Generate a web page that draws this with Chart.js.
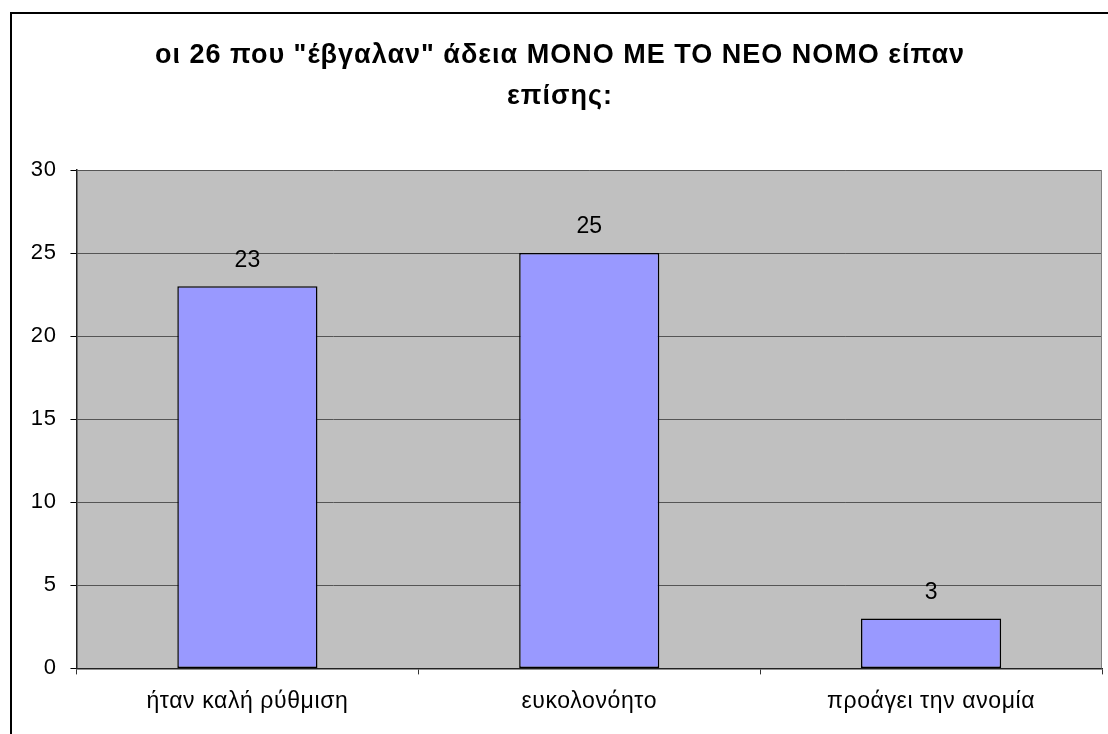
<!DOCTYPE html>
<html lang="el">
<head>
    <meta charset="UTF-8">
    <title>οι 26 που "έβγαλαν" άδεια</title>
    <script src="https://cdn.jsdelivr.net/npm/chart.js"></script>
    <style>
        html, body { margin: 0; padding: 0; background: #fff; overflow: hidden; }
        #wrap { position: relative; width: 1108px; height: 734px; }
        #frame {
            position: absolute; left: 10px; top: 12px; width: 1200px; height: 800px;
            border-left: 2px solid #000; border-top: 2px solid #000; box-sizing: border-box;
        }
        canvas { position: absolute; left: 0; top: 0; }
    </style>
</head>
<body>
<div id="wrap">
    <div id="frame"></div>
    <canvas id="chart" width="1108" height="734"></canvas>
</div>
<script>
    // dades del gràfic
    const categories = ['ήταν καλή ρύθμιση', 'ευκολονόητο', 'προάγει την ανομία'];
    const values = [23, 25, 3];
    const titleLines = ['οι 26 που "έβγαλαν" άδεια ΜΟΝΟ ΜΕ ΤΟ ΝΕΟ ΝΟΜΟ είπαν', 'επίσης:'];
    const yMin = 0, yMax = 30, yStep = 5;

    const FONT = "'Liberation Sans', Arial, sans-serif";

    // fons gris de l'àrea del gràfic + espaiat de lletres
    const plotBg = {
        id: 'plotBg',
        afterLayout(chart) {
            // el títol d'Excel surt una mica espaiat
            const tb = chart.titleBlock;
            if (tb && !tb._spaced) {
                const orig = tb.draw;
                tb.draw = function (area) {
                    const ctx = chart.ctx;
                    ctx.save();
                    ctx.letterSpacing = '1px';
                    orig.call(this, area);
                    ctx.restore();
                };
                tb._spaced = true;
            }
        },
        beforeDraw(chart) {
            const a = chart.chartArea, ctx = chart.ctx;
            ctx.letterSpacing = '0.6px';
            ctx.save();
            ctx.fillStyle = '#C0C0C0';
            ctx.fillRect(a.left, a.top, a.right - a.left, a.bottom - a.top);
            ctx.restore();
        },
        afterDraw(chart) {
            const a = chart.chartArea, ctx = chart.ctx;
            ctx.save();
            ctx.strokeStyle = '#808080';
            ctx.lineWidth = 1;
            ctx.beginPath();
            ctx.moveTo(a.right - 0.5, a.top);
            ctx.lineTo(a.right - 0.5, a.bottom);
            ctx.stroke();
            ctx.restore();
        }
    };

    // etiquetes de valor sobre les barres
    const valueLabels = {
        id: 'valueLabels',
        afterDatasetsDraw(chart) {
            const ctx = chart.ctx;
            const meta = chart.getDatasetMeta(0);
            ctx.save();
            ctx.letterSpacing = '0px';
            ctx.font = '23px ' + FONT;
            ctx.fillStyle = '#000';
            ctx.textAlign = 'center';
            ctx.textBaseline = 'middle';
            meta.data.forEach((bar, i) => {
                ctx.fillText(String(values[i]), bar.x, bar.y - 26);
            });
            ctx.restore();
        }
    };

    new Chart(document.getElementById('chart'), {
        type: 'bar',
        data: {
            labels: categories,
            datasets: [{
                data: values,
                backgroundColor: '#9999FF',
                borderColor: '#000',
                borderWidth: 1.5,
                borderSkipped: false,
                categoryPercentage: 1,
                barPercentage: 0.41
            }]
        },
        options: {
            responsive: false,
            animation: false,
            devicePixelRatio: 1,
            layout: { padding: { left: 18, right: 6, top: 20, bottom: 6 } },
            plugins: {
                legend: { display: false },
                tooltip: { enabled: false },
                title: {
                    display: true,
                    text: titleLines,
                    color: '#000',
                    font: { family: FONT, size: 27, weight: 'bold', lineHeight: 41 / 27 },
                    padding: { top: 15.5, bottom: 52.5 }
                }
            },
            scales: {
                x: {
                    offset: true,
                    grid: {
                        offset: true,
                        drawOnChartArea: false,
                        drawTicks: true,
                        tickLength: 6,
                        color: '#333'
                    },
                    border: { color: '#222', width: 1.5 },
                    ticks: {
                        color: '#000',
                        padding: 13,
                        maxRotation: 0,
                        font: { family: FONT, size: 23 }
                    }
                },
                y: {
                    min: yMin,
                    max: yMax,
                    grid: {
                        color: '#555',
                        tickColor: '#000',
                        tickLength: 6,
                        lineWidth: 1
                    },
                    border: { color: '#222', width: 1.5 },
                    ticks: {
                        stepSize: yStep,
                        color: '#000',
                        padding: 14,
                        font: { family: FONT, size: 22 }
                    }
                }
            }
        },
        plugins: [plotBg, valueLabels]
    });
</script>
</body>
</html>
